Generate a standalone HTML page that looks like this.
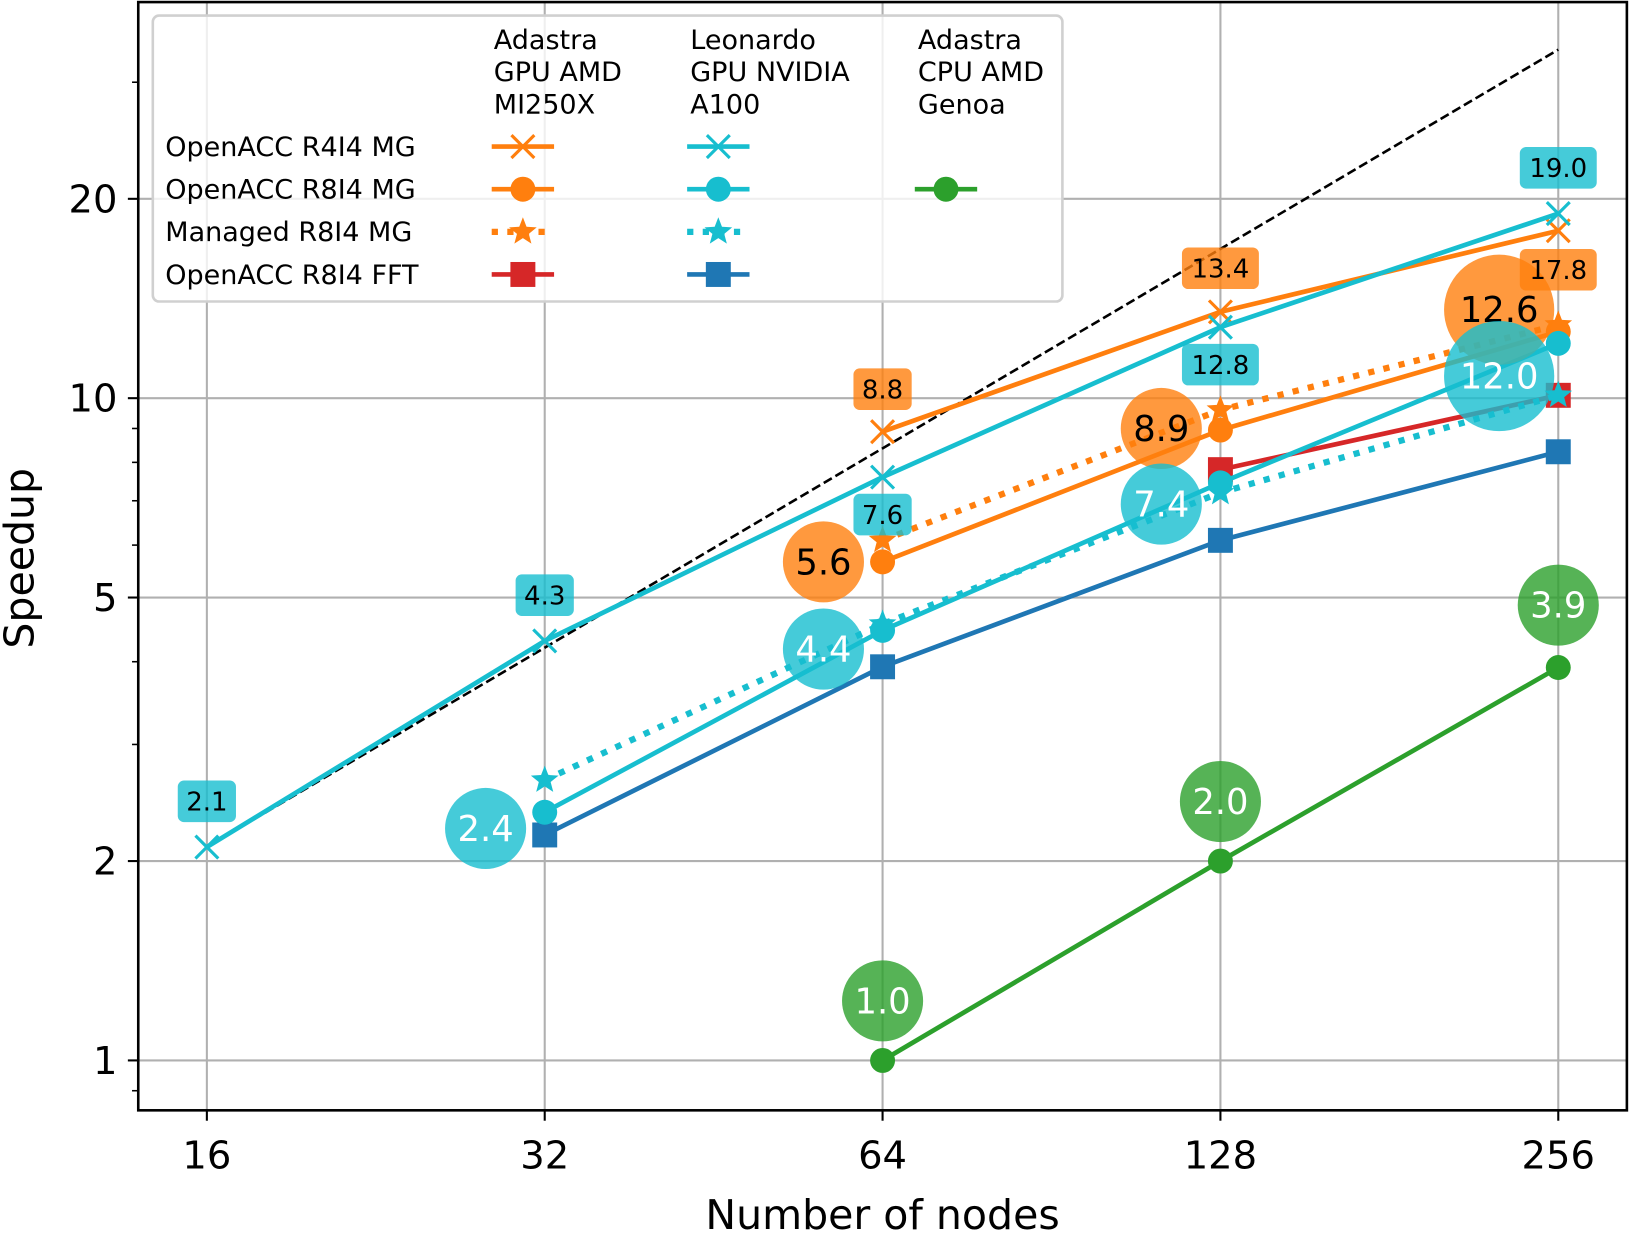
<!DOCTYPE html>
<html><head><meta charset="utf-8"><style>
html,body{margin:0;padding:0;background:#fff;}
svg{display:block;font-family:"DejaVu Sans","Liberation Sans",sans-serif;}
</style></head><body>
<svg id="chart" width="1630" height="1233" viewBox="0 0 1568 1186" preserveAspectRatio="none" xmlns="http://www.w3.org/2000/svg"></svg>
<script>
const xNodes=[16,32,64,128,256];
const yTicks=[1,2,5,10,20];
const adaR4=[null,null,8.9,13.5,17.9];
const leoR4=[2.1,4.3,7.6,12.8,19.0];
const adaR8=[null,null,5.66,8.95,12.6];
const leoR8=[null,2.37,4.46,7.45,12.1];
const adaMan=[null,null,6.1,9.6,12.9];
const leoMan=[null,2.65,4.56,7.2,10.1];
const adaFFT=[null,null,null,7.8,10.1];
const leoFFT=[null,2.19,3.93,6.1,8.3];
const cpuR8=[null,null,1.0,2.0,3.92];
const bubbleText=["5.6","8.9","12.6","2.4","4.4","7.4","12.0","1.0","2.0","3.9"];
const bubbleNodes=[64,128,256,32,64,128,256,64,128,256];
const bubbleY=[5.66,9.0,13.6,2.24,4.18,6.92,10.8,1.23,2.46,4.87];
const bubbleGroup=["ada","ada","ada","leo","leo","leo","leo","cpu","cpu","cpu"];
const boxText=["8.8","13.4","17.8","2.1","4.3","7.6","12.8","19.0"];
const boxNodes=[64,128,256,16,32,64,128,256];
const boxValues=[8.8,13.4,17.8,2.1,4.3,7.6,12.8,19.0];
const boxGroup=["ada","ada","ada","leo","leo","leo","leo","leo"];
const boxSide=["above","above","below","above","above","below","below","above"];
const L=133,R=1565,T=2,B=1068;
const X=v=>199+325*Math.log2(v/16);
const Y=v=>1020-637*Math.log10(v);
const svg=document.getElementById('chart');
const NS="http://www.w3.org/2000/svg";
function mk(tag,a,parent){const e=document.createElementNS(NS,tag);for(const k in a)e.setAttribute(k,a[k]);(parent||svg).appendChild(e);return e;}
xNodes.forEach(n=>{const g=mk('line',{x1:X(n),x2:X(n),y1:T,y2:B,stroke:'#b0b0b0','stroke-width':2});

});
yTicks.forEach(v=>{const g=mk('line',{x1:L,x2:R,y1:Y(v),y2:Y(v),stroke:'#b0b0b0','stroke-width':2});

});
const ideal=mk('line',{x1:X(16),y1:Y(2.1),x2:X(256),y2:Y(2.1*16),stroke:'#000','stroke-width':2.5,'stroke-dasharray':'9,4'});


function marker(type,x,y,c,g){
 if(type==='x'){mk('path',{d:`M${x-11} ${y-11}L${x+11} ${y+11}M${x-11} ${y+11}L${x+11} ${y-11}`,stroke:c,'stroke-width':3,fill:'none'},g);}
 else if(type==='o'){mk('circle',{cx:x,cy:y,r:12,fill:c},g);}
 else if(type==='s'){mk('rect',{x:x-12,y:y-12,width:24,height:24,fill:c},g);}
 else if(type==='*'){let p=[];for(let i=0;i<10;i++){const r=i%2?6:14,a=-Math.PI/2+i*Math.PI/5;p.push((x+r*Math.cos(a)).toFixed(1)+','+(y+r*Math.sin(a)).toFixed(1));}mk('polygon',{points:p.join(' '),fill:c},g);}
}
function series(name,data,c,type,dotted){
 const g=mk('g',{});
 
 
 const pts=[];data.forEach((v,i)=>{if(v!=null)pts.push([X(xNodes[i]),Y(v)]);});
 mk('polyline',{points:pts.map(p=>p.join(',')).join(' '),fill:'none',stroke:c,'stroke-width':dotted?6:4.5,'stroke-dasharray':dotted?'6,9':'none'},g);
 pts.forEach(p=>marker(type,p[0],p[1],c,g));
}
series('cpu-openacc-r8i4-mg',cpuR8,'#2ca02c','o');
series('leonardo-fft',leoFFT,'#1f77b4','s');
series('adastra-fft',adaFFT,'#d62728','s');
series('adastra-managed-r8i4',adaMan,'#ff7f0e','*',true);
series('adastra-openacc-r8i4',adaR8,'#ff7f0e','o');
series('leonardo-managed-r8i4',leoMan,'#17becf','*',true);
series('leonardo-openacc-r8i4',leoR8,'#17becf','o');
series('adastra-openacc-r4i4',adaR4,'#ff7f0e','x');
series('leonardo-openacc-r4i4',leoR4,'#17becf','x');
const fillOf={ada:'#ff7f0e',leo:'#17becf',cpu:'#2ca02c'};
const txtOf={ada:'#000',leo:'#fff',cpu:'#fff'};
bubbleText.forEach((s,i)=>{const grp=bubbleGroup[i];const shift=grp==='cpu'?0:-0.175*325;
 const cx=X(bubbleNodes[i])+shift,cy=Y(bubbleY[i]);const r=s.length>3?53:39;
 const g=mk('g',{});
 
 
 mk('circle',{cx:cx,cy:cy,r:r,fill:fillOf[grp],'fill-opacity':0.8},g);
 const t=mk('text',{x:cx,y:cy+12,'text-anchor':'middle','font-size':34,fill:txtOf[grp]},g);t.textContent=s;});
boxText.forEach((s,i)=>{const cx=X(boxNodes[i]),cy=Y(boxValues[i])+(boxSide[i]==='above'?-44:36);
 const g=mk('g',{});
 
 
 const w=s.length>3?74:56;
 mk('rect',{x:cx-w/2,y:cy-20,width:w,height:40,rx:6,fill:fillOf[boxGroup[i]],'fill-opacity':0.8},g);
 const t=mk('text',{x:cx,y:cy+9,'text-anchor':'middle','font-size':25,fill:'#000'},g);t.textContent=s;});
const fr=mk('rect',{x:L,y:T,width:R-L,height:B-T,fill:'none',stroke:'#000','stroke-width':2.5});


xNodes.forEach(n=>{mk('line',{x1:X(n),x2:X(n),y1:B,y2:B+10,stroke:'#000','stroke-width':2});
 const t=mk('text',{x:X(n),y:B+56,'text-anchor':'middle','font-size':37});t.textContent=n;
 
 });
yTicks.forEach(v=>{mk('line',{x1:L-10,x2:L,y1:Y(v),y2:Y(v),stroke:'#000','stroke-width':2});
 const t=mk('text',{x:L-20,y:Y(v)+13,'text-anchor':'end','font-size':37});t.textContent=v;
 
 });
[0.9,3,4,6,7,8,9,30].forEach(v=>mk('line',{x1:L-6,x2:L,y1:Y(v),y2:Y(v),stroke:'#000','stroke-width':1.5}));
const xt=mk('text',{x:849,y:1182,'text-anchor':'middle','font-size':39.5});xt.textContent='Number of nodes';


const yt=mk('text',{x:0,y:0,'text-anchor':'middle','font-size':39.5,transform:'translate(32,537) rotate(-90)'});yt.textContent='Speedup';


const lg=mk('g',{});


mk('rect',{x:147,y:15,width:875,height:275,rx:6,fill:'#fff','fill-opacity':0.8,stroke:'#d0d0d0','stroke-width':2.5},lg);
const heads=[[475,['Adastra','GPU AMD','MI250X']],[664,['Leonardo','GPU NVIDIA','A100']],[883,['Adastra','CPU AMD','Genoa']]];
heads.forEach(h=>h[1].forEach((s,i)=>{const t=mk('text',{x:h[0],y:47+i*31,'font-size':26},lg);t.textContent=s;}));
const rows=['OpenACC R4I4 MG','OpenACC R8I4 MG','Managed R8I4 MG','OpenACC R8I4 FFT'];
const rowTypes=['x','o','*','s'];
rows.forEach((s,i)=>{const y=141+i*41;const t=mk('text',{x:159,y:y+9,'font-size':26},lg);t.textContent=s;
 const cols=[[503,i===3?'#d62728':'#ff7f0e'],[691,i===3?'#1f77b4':'#17becf']];if(i===1)cols.push([910,'#2ca02c']);
 cols.forEach(c=>{mk('line',{x1:c[0]-30,x2:c[0]+30,y1:y,y2:y,stroke:c[1],'stroke-width':i===2?6:4.5,'stroke-dasharray':i===2?'6,9':'none'},lg);marker(rowTypes[i],c[0],y,c[1],lg);});});
</script>
</body></html>
